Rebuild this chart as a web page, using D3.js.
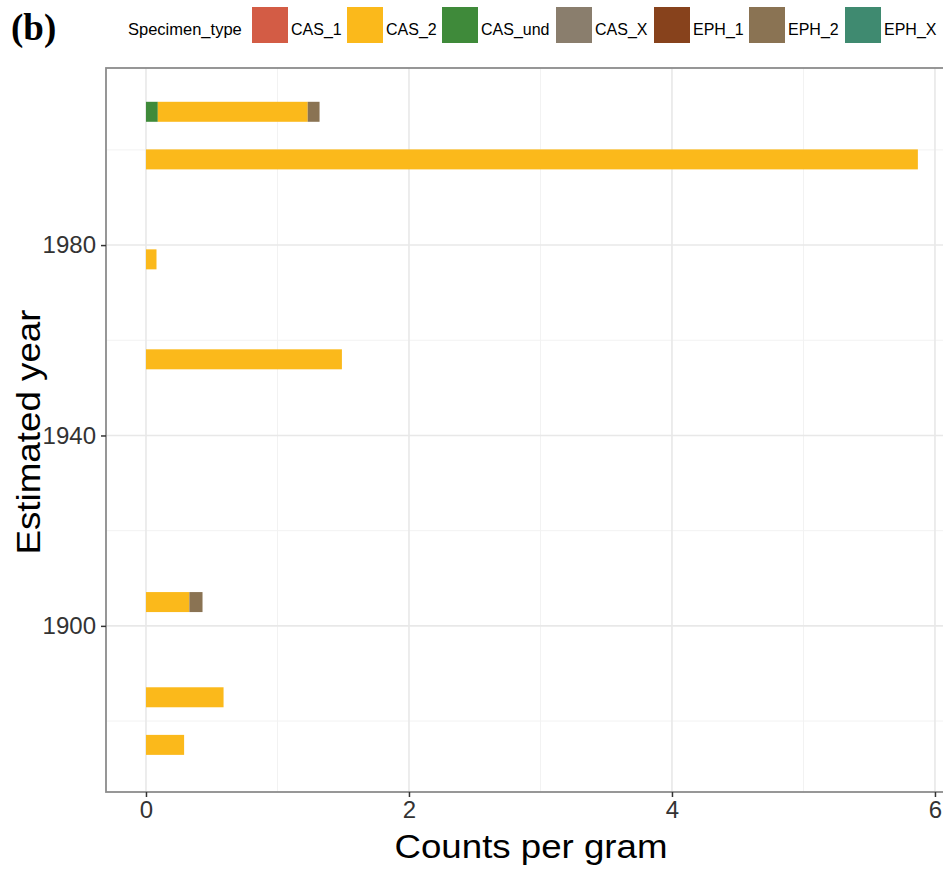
<!DOCTYPE html>
<head>
  <meta charset="utf-8">
  <script src="https://d3js.org/d3.v7.min.js"></script>
  <style>
    body { margin: 0; background: #fff; }
  </style>
</head>
<body>
  <svg width="943" height="869" font-family="'Liberation Sans', Arial, sans-serif"></svg>
  <script>
// estimated year of each bar
var years = [2008, 1998, 1977, 1956, 1905, 1885, 1875];
// counts per gram by specimen type (types not listed are zero)
var casUnd = [0.09, 0, 0, 0, 0, 0, 0];
var cas2   = [1.14, 5.87, 0.08, 1.49, 0.33, 0.59, 0.29];
var eph2   = [0.09, 0, 0, 0, 0.10, 0, 0];

var types = ["CAS_1", "CAS_2", "CAS_und", "CAS_X", "EPH_1", "EPH_2", "EPH_X"];
var typeColours = ["#d35c45", "#fbb91b", "#3f8a3a", "#8a7e6d", "#87421c", "#8a7353", "#3f8a70"];
var stackOrder = ["CAS_und", "CAS_2", "EPH_2"];

var xTicks = [0, 2, 4, 6];
var yTicks = [1900, 1940, 1980];

var svg = d3.select("svg"),
    margin = {top: 68, right: -13, bottom: 77, left: 106},
    width = +svg.attr("width") - margin.left - margin.right,
    height = +svg.attr("height") - margin.top - margin.bottom;

var colour = d3.scaleOrdinal().domain(types).range(typeColours);

var rows = years.map(function(y, i) {
  return {year: y, CAS_und: casUnd[i], CAS_2: cas2[i], EPH_2: eph2[i]};
});

var x = d3.scaleLinear().domain([-0.304, 6.16]).range([0, width]);
var y = d3.scaleLinear().domain([1865.1, 2017.2]).range([height, 0]);
var barYears = 4.2;

var g = svg.append("g")
    .attr("transform", "translate(" + margin.left + "," + margin.top + ")");

// grid
g.selectAll(".minorx").data([1, 3, 5]).enter().append("line")
    .attr("x1", function(d) { return x(d); }).attr("x2", function(d) { return x(d); })
    .attr("y1", 0).attr("y2", height)
    .attr("stroke", "#f2f2f2").attr("stroke-width", 1);
g.selectAll(".minory").data([1880, 1920, 1960, 2000]).enter().append("line")
    .attr("y1", function(d) { return y(d); }).attr("y2", function(d) { return y(d); })
    .attr("x1", 0).attr("x2", width)
    .attr("stroke", "#f2f2f2").attr("stroke-width", 1);
g.selectAll(".majorx").data(xTicks).enter().append("line")
    .attr("x1", function(d) { return x(d); }).attr("x2", function(d) { return x(d); })
    .attr("y1", 0).attr("y2", height)
    .attr("stroke", "#e8e8e8").attr("stroke-width", 1.6);
g.selectAll(".majory").data(yTicks).enter().append("line")
    .attr("y1", function(d) { return y(d); }).attr("y2", function(d) { return y(d); })
    .attr("x1", 0).attr("x2", width)
    .attr("stroke", "#e8e8e8").attr("stroke-width", 1.6);

// stacked bars
var series = d3.stack().keys(stackOrder)(rows);
var bh = y(2000) - y(2000 + barYears);
g.selectAll(".layer").data(series).enter().append("g")
    .attr("fill", function(d) { return colour(d.key); })
  .selectAll("rect").data(function(d) { return d; }).enter().append("rect")
    .attr("x", function(d) { return x(d[0]); })
    .attr("width", function(d) { return x(d[1]) - x(d[0]); })
    .attr("y", function(d) { return y(d.data.year) - bh / 2; })
    .attr("height", bh);

// panel border
g.append("rect")
    .attr("width", width).attr("height", height)
    .attr("fill", "none").attr("stroke", "#8c8c8c").attr("stroke-width", 1.8);

// axes
var xAxis = g.append("g")
    .attr("transform", "translate(0," + height + ")")
    .call(d3.axisBottom(x).tickValues(xTicks).tickSize(5).tickPadding(4).tickFormat(d3.format("d")));
var yAxis = g.append("g")
    .call(d3.axisLeft(y).tickValues(yTicks).tickSize(5).tickPadding(5).tickFormat(d3.format("d")));
[xAxis, yAxis].forEach(function(a) {
  a.select(".domain").remove();
  a.selectAll("line").attr("stroke", "#333").attr("stroke-width", 1.5);
  a.selectAll("text").attr("font-size", 24).attr("fill", "#333")
    .attr("font-family", "'Liberation Sans', Arial, sans-serif");
});

svg.append("text")
    .attr("x", 531).attr("y", 858)
    .attr("text-anchor", "middle").attr("font-size", 34)
    .attr("textLength", 273).attr("lengthAdjust", "spacingAndGlyphs")
    .text("Counts per gram");
svg.append("text")
    .attr("transform", "translate(40,432) rotate(-90)")
    .attr("text-anchor", "middle").attr("font-size", 33)
    .attr("textLength", 245).attr("lengthAdjust", "spacingAndGlyphs")
    .text("Estimated year");

// legend
svg.append("text")
    .attr("x", 11).attr("y", 40)
    .attr("font-family", "'Liberation Serif', 'Times New Roman', serif")
    .attr("font-weight", "bold").attr("font-size", 37)
    .text("(b)");
svg.append("text")
    .attr("x", 128).attr("y", 35)
    .attr("font-size", 16.5)
    .text("Specimen_type");
var legendX = [252, 347, 442, 556, 654, 749, 845];
var lg = svg.selectAll(".leg").data(types).enter().append("g")
    .attr("transform", function(d, i) { return "translate(" + legendX[i] + ",7)"; });
lg.append("rect").attr("width", 36).attr("height", 36)
    .attr("fill", function(d) { return colour(d); });
lg.append("text").attr("x", 39).attr("y", 28).attr("font-size", 16)
    .text(function(d) { return d; });
  </script>
</body>
